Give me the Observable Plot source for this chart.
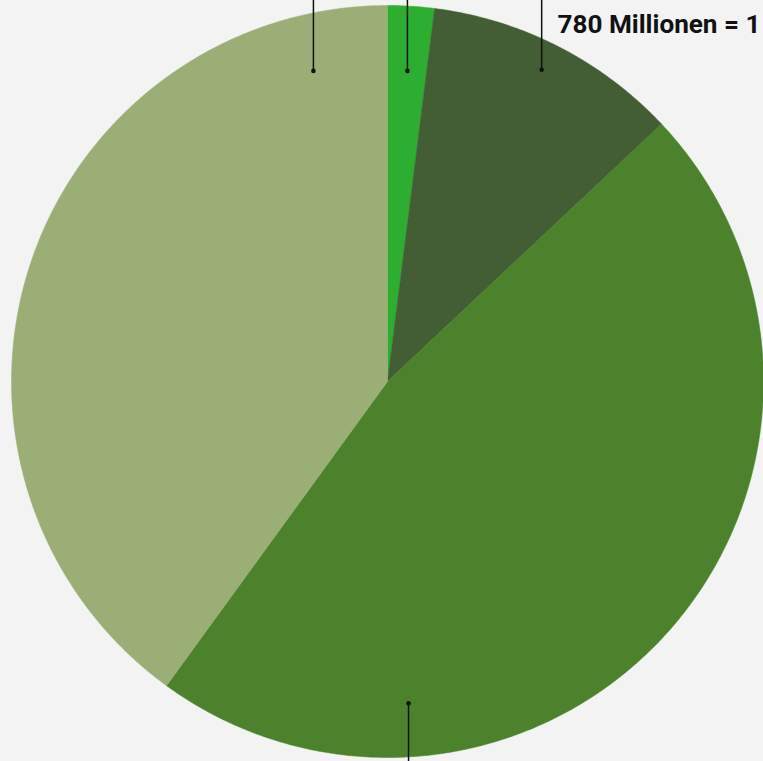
<!DOCTYPE html>
<html><head><meta charset="utf-8">
<script src="https://cdn.jsdelivr.net/npm/d3@7"></script>
<script src="https://cdn.jsdelivr.net/npm/@observablehq/plot@0.6"></script>
<style>html,body{margin:0;padding:0;background:#f3f3f3;overflow:hidden}</style>
</head><body><div id="chart"></div>
<script>
// Slices, clockwise from 12 o'clock (percent of total)
const sliceNames  = ["Segment 1", "Segment 2", "Segment 3", "Segment 4"];
const sliceValues = [2, 11, 47, 40];
const sliceColors = ["#2eae31", "#435e34", "#4b822b", "#9aae75"];

// Leader lines (in pie-radius units: x right, y up; 1 = radius)
const leaderX    = [-0.197, 0.053, 0.41, 0.056];
const leaderDotY = [0.826, 0.826, 0.829, -0.856];
const leaderEndY = [1.02, 1.02, 1.02, -1.02];

const labelText = ["780 Millionen = 1"];
const labelX = [0.452];
const labelY = [0.95];

const W = 763, H = 761, cx = 387, cy = 381, R = 376;

const arcs = d3.pie().sort(null).value(d => d)(sliceValues);
const piePts = [];
arcs.forEach((a, i) => {
  const name = sliceNames[i];
  piePts.push({name, x: 0, y: 0});
  const n = Math.max(2, Math.ceil((a.endAngle - a.startAngle) / (Math.PI / 360)));
  for (let k = 0; k <= n; k++) {
    const t = a.startAngle + (a.endAngle - a.startAngle) * k / n;
    piePts.push({name, x: Math.sin(t), y: Math.cos(t)});
  }
  piePts.push({name, x: 0, y: 0});
});

const leaders = leaderX.map((x, i) => ({x, y0: leaderDotY[i], y1: leaderEndY[i]}));
const labels = labelText.map((t, i) => ({t, x: labelX[i], y: labelY[i]}));

const chart = Plot.plot({
  width: W, height: H,
  margin: 0,
  style: {background: "#f3f3f3", overflow: "hidden"},
  x: {domain: [-cx / R, (W - cx) / R], axis: null},
  y: {domain: [-(H - cy) / R, cy / R], axis: null},
  color: {domain: sliceNames, range: sliceColors},
  marks: [
    Plot.line(piePts, {x: "x", y: "y", z: "name", fill: "name", stroke: "name", strokeWidth: 0.5, curve: "linear"}),
    Plot.link(leaders, {x1: "x", x2: "x", y1: "y0", y2: "y1", stroke: "#111", strokeWidth: 1.5}),
    Plot.dot(leaders, {x: "x", y: "y0", r: 2.3, fill: "#111"}),
    Plot.text(labels, {x: "x", y: "y", text: "t", textAnchor: "start", fontSize: 26.5, fontWeight: "bold",
      fontFamily: "Roboto, sans-serif", fill: "#111"})
  ]
});
chart.querySelectorAll("text").forEach(t => {
  t.setAttribute("textLength", 203);
  t.setAttribute("lengthAdjust", "spacingAndGlyphs");
});
document.getElementById("chart").append(chart);
</script>
</body></html>
